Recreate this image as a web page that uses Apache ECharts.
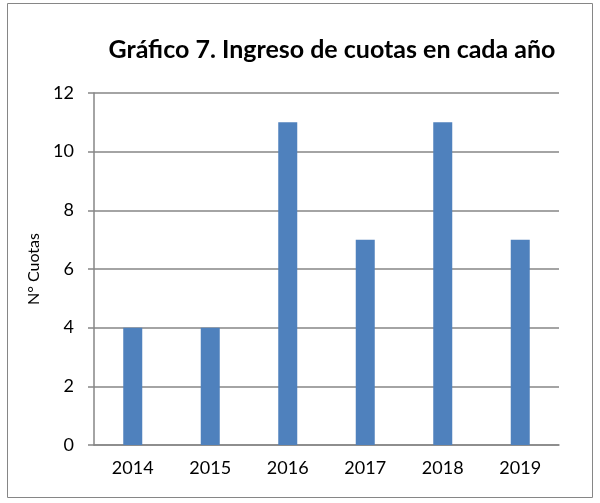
<!DOCTYPE html>
<html>
<head>
<meta charset="UTF-8">
<title>Gráfico 7</title>
<script src="https://cdn.jsdelivr.net/npm/echarts@6/dist/echarts.min.js"></script>
<style>
  html, body { margin: 0; padding: 0; background: #fff; }
  #main { width: 600px; height: 503px; }
</style>
</head>
<body>
<div id="main"></div>
<script>
// datos
var years = ['2014', '2015', '2016', '2017', '2018', '2019'];
var cuotas = [4, 4, 11, 7, 11, 7];
var yTicks = [0, 2, 4, 6, 8, 10, 12];

var myChart = echarts.init(document.getElementById('main'));

var option = {
  textStyle: { fontFamily: 'Lato' },
  title: {
    text: 'Gráfico 7. Ingreso de cuotas en cada año',
    left: 327, top: 32, textAlign: 'center',
    textStyle: { fontFamily: 'Lato', fontWeight: 'bold', fontSize: 25, color: '#000' }
  },
  graphic: [{
    type: 'rect',
    shape: { x: 7.5, y: 3.5, width: 585, height: 494 },
    style: { fill: 'none', stroke: '#868686', lineWidth: 1 }
  }],
  grid: { left: 94, right: 41, top: 93, bottom: 58 },
  xAxis: {
    type: 'category',
    data: years,
    axisLine: { lineStyle: { color: '#868686', width: 1.5 } },
    axisTick: { show: false },
    axisLabel: { color: '#000', fontSize: 18, margin: 14, fontFamily: 'Lato' }
  },
  yAxis: {
    type: 'value',
    min: yTicks[0], max: yTicks[yTicks.length - 1], interval: 2,
    name: 'N° Cuotas',
    nameLocation: 'middle', nameGap: 52, nameRotate: 90,
    nameTextStyle: { color: '#000', fontSize: 16, fontFamily: 'Lato' },
    axisLine: { show: true, lineStyle: { color: '#868686', width: 1.5 } },
    axisTick: { show: true, length: 6, lineStyle: { color: '#868686', width: 1.5 } },
    axisLabel: { color: '#000', fontSize: 18, margin: 20, fontFamily: 'Lato' },
    splitLine: { lineStyle: { color: '#868686', width: 1.5 } }
  },
  series: [{
    type: 'bar',
    data: cuotas,
    barWidth: 19,
    itemStyle: { color: '#4F81BD' }
  }]
};
myChart.setOption(option);
</script>
</body>
</html>
